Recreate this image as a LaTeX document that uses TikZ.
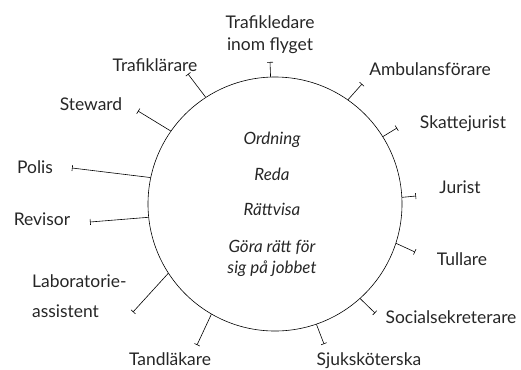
\documentclass[tikz,border=0pt]{standalone}
\usepackage{fontspec}
\setmainfont{Lato}
\usepackage{tikz}
\usetikzlibrary{arrows.meta}
\tikzset{>=stealth}
\tikzset{
  spoke/.style={line width=0.6pt,-{Bar[width=6pt,line width=0.6pt]}},
  yrke/.style={inner sep=0pt,anchor=base,text=black!85,font=\fontsize{17.5}{21}\selectfont},
  dygd/.style={inner sep=0pt,anchor=base,text=black!85,font=\fontsize{17}{21}\selectfont\itshape}
}

\begin{document}
\begin{tikzpicture}[x=1bp,y=-1bp]
        \useasboundingbox (0,0) rectangle (521,369);
        \node[draw,circle,line width=0.6pt,minimum size=254bp,inner sep=0pt] (ring) at (275,204) {};
        % values in the middle
        \node[dygd] (ordning) at (272,144) {Ordning};
        \node[dygd] (reda) at (272,180) {Reda};
        \node[dygd] (rattvisa) at (272,215) {Rättvisa};
        \node[dygd] (gora) at (272,252) {Göra rätt för};
        \node[dygd] (sig) at (272,273) {sig på jobbet};
        % jobs round the ring
        \node[yrke,anchor=center,align=center] (ledare) at (270,35) {Trafikledare\\[1pt]inom flyget};
        \node[yrke] (ambulans) at (430,75) {Ambulansförare};
        \node[yrke] (skatte) at (463,128) {Skattejurist};
        \node[yrke] (jurist) at (460,193) {Jurist};
        \node[yrke] (tullare) at (462,265) {Tullare};
        \node[yrke] (social) at (451,323) {Socialsekreterare};
        \node[yrke] (sjuk) at (369,365) {Sjuksköterska};
        \node[yrke] (tand) at (170,365) {Tandläkare};
        \node[yrke,anchor=west,align=left] (lab) at (32,296) {Laboratorie-\\[9pt]assistent};
        \node[yrke] (revisor) at (42,225) {Revisor};
        \node[yrke] (polis) at (35,173) {Polis};
        \node[yrke] (steward) at (91,110) {Steward};
        \node[yrke] (larare) at (155,71) {Trafiklärare};
        % ends of the spokes
        \coordinate (eLedare) at (270,62);
        \coordinate (eAmbulans) at (362,84);
        \coordinate (eSkatte) at (397,128);
        \coordinate (eJurist) at (416,196);
        \coordinate (eTullare) at (415,252);
        \coordinate (eSocial) at (375,313);
        \coordinate (eSjuk) at (324,344);
        \coordinate (eTand) at (197,345);
        \coordinate (eLab) at (133,312);
        \coordinate (eRevisor) at (90,222);
        \coordinate (ePolis) at (72,168);
        \coordinate (eSteward) at (138,111);
        \coordinate (eLarare) at (188,74);
        \draw[spoke] (ring.92) -- (eLedare);
        \draw[spoke] (ring.55) -- (eAmbulans);
        \draw[spoke] (ring.32) -- (eSkatte);
        \draw[spoke] (ring.3) -- (eJurist);
        \draw[spoke] (ring.-18) -- (eTullare);
        \draw[spoke] (ring.-48) -- (eSocial);
        \draw[spoke] (ring.-71) -- (eSjuk);
        \draw[spoke] (ring.240) -- (eTand);
        \draw[spoke] (ring.213) -- (eLab);
        \draw[spoke] (ring.186) -- (eRevisor);
        \draw[spoke] (ring.168) -- (ePolis);
        \draw[spoke] (ring.145) -- (eSteward);
        \draw[spoke] (ring.123) -- (eLarare);
\end{tikzpicture}
\end{document}
